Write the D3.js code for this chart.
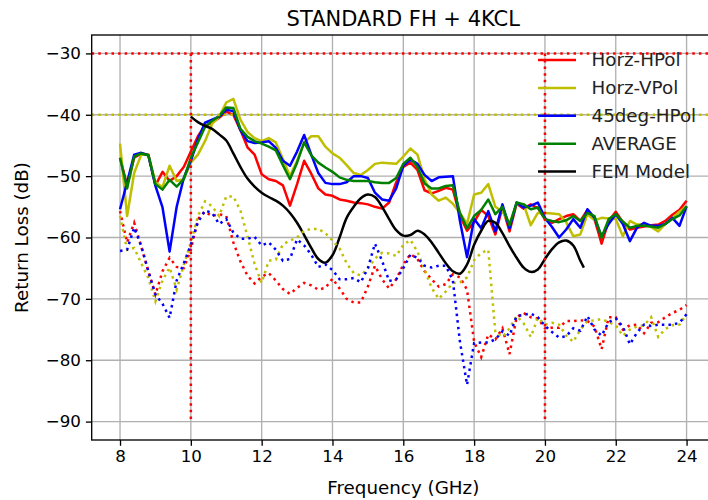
<!DOCTYPE html>
<html>
<head>
<meta charset="utf-8">
<script src="https://cdn.jsdelivr.net/npm/d3@7"></script>
<style>
	body { margin: 0; background: #fff; }
	text { font-family: "DejaVu Sans", sans-serif; fill: #000; }
</style>
</head>
<body>
<div id="chart"></div>
<script>
'use strict';

// Measurement frequencies (GHz), one point every 0.2 GHz
var freqs = [
	8.0, 8.2, 8.4, 8.6, 8.8, 9.0, 9.2, 9.4, 9.6, 9.8,
	10.0, 10.2, 10.4, 10.6, 10.8, 11.0, 11.2, 11.4, 11.6, 11.8,
	12.0, 12.2, 12.4, 12.6, 12.8, 13.0, 13.2, 13.4, 13.6, 13.8,
	14.0, 14.2, 14.4, 14.6, 14.8, 15.0, 15.2, 15.4, 15.6, 15.8,
	16.0, 16.2, 16.4, 16.6, 16.8, 17.0, 17.2, 17.4, 17.6, 17.8,
	18.0, 18.2, 18.4, 18.6, 18.8, 19.0, 19.2, 19.4, 19.6, 19.8,
	20.0, 20.2, 20.4, 20.6, 20.8, 21.0, 21.2, 21.4, 21.6, 21.8,
	22.0, 22.2, 22.4, 22.6, 22.8, 23.0, 23.2, 23.4, 23.6, 23.8,
	24.0
];

// Solid curves (dB)
var horz_hpol = [
	-47.0, -51.5, -47.0, -46.3, -46.5, -51.5, -49.3, -50.8, -50.0, -48.5,
	-46.0, -43.5, -41.8, -41.3, -40.5, -39.5, -40.0, -42.5, -45.3, -46.5,
	-49.7, -50.5, -50.8, -51.5, -54.8, -51.3, -47.5, -49.6, -52.0, -53.0,
	-53.2, -53.8, -54.0, -54.3, -54.4, -54.6, -55.0, -55.3, -54.3, -51.0,
	-48.5, -47.8, -49.0, -52.3, -52.8, -52.4, -51.9, -52.2, -56.5, -58.9,
	-57.5, -55.5, -56.5, -59.5, -55.0, -59.0, -54.5, -55.3, -54.6, -55.2,
	-57.0, -57.6, -57.0, -56.5, -56.2, -57.3, -55.5, -57.0, -61.0, -57.3,
	-55.8, -57.5, -58.7, -58.4, -58.2, -58.0, -57.9, -57.3, -56.3, -55.5,
	-54.0
];

var horz_vpol = [
	-44.7, -56.5, -49.5, -46.5, -46.5, -51.0, -51.8, -48.3, -50.8, -50.5,
	-47.8, -46.5, -44.3, -41.5, -40.3, -38.0, -37.4, -40.8, -42.8, -43.8,
	-44.3, -43.8, -44.5, -47.2, -50.0, -47.5, -44.5, -43.5, -43.5, -45.2,
	-46.3, -47.0, -48.2, -49.5, -49.8, -49.0, -48.0, -47.8, -47.9, -48.0,
	-46.8, -45.5, -46.5, -50.5, -53.0, -54.0, -53.5, -54.5, -56.0, -57.8,
	-53.0, -52.7, -51.3, -55.0, -55.8, -57.8, -54.5, -54.6, -58.0, -56.0,
	-56.0, -56.1, -56.2, -57.5, -59.8, -59.5, -56.2, -57.2, -56.8, -56.9,
	-57.0, -59.8, -57.3, -57.9, -57.9, -58.3, -59.0, -57.8, -56.8, -55.8,
	-54.9
];

var deg45_hpol = [
	-55.4, -51.0, -46.5, -46.2, -46.6, -51.6, -55.1, -62.3, -55.0, -50.3,
	-47.5, -44.0, -41.3, -40.8, -40.3, -39.2, -39.4, -42.5, -44.3, -44.6,
	-44.5, -44.3, -45.4, -47.5, -48.3, -46.0, -43.3, -46.5, -49.5, -51.1,
	-51.3, -51.3, -51.0, -50.0, -50.0, -50.3, -52.7, -53.8, -54.0, -52.0,
	-48.3, -47.3, -48.0, -49.8, -50.8, -50.2, -50.1, -50.0, -57.3, -63.2,
	-57.0, -58.5, -55.7, -59.0, -54.6, -58.5, -54.3, -55.1, -54.8, -54.3,
	-56.8, -58.3, -60.0, -58.7, -57.0, -58.4, -55.4, -56.8, -59.8, -57.8,
	-56.2, -57.8, -60.6, -58.4, -57.6, -58.1, -58.1, -57.8, -56.8, -58.1,
	-54.9
];

var average = [
	-47.0, -52.0, -46.8, -46.3, -46.6, -51.3, -52.2, -50.6, -51.7, -50.5,
	-47.0, -44.5, -42.0, -41.0, -40.2, -38.8, -38.9, -42.3, -43.6, -44.3,
	-44.7, -45.2, -45.8, -48.2, -50.5, -47.8, -44.5, -46.6, -47.8, -48.6,
	-49.3, -50.2, -50.6, -50.8, -50.8, -50.8, -51.0, -51.1, -51.1, -50.3,
	-48.0, -47.0, -48.5, -51.2, -52.0, -52.0, -51.6, -51.5, -56.0, -58.5,
	-56.5, -55.5, -53.8, -56.2, -55.0, -58.0, -54.3, -54.6, -55.4, -55.1,
	-57.0, -57.3, -57.5, -57.2, -56.5, -57.3, -56.0, -56.5, -60.0, -57.0,
	-56.2, -57.4, -58.4, -58.1, -58.1, -58.2, -58.4, -57.8, -57.0, -56.4,
	-54.9
];

// Dotted curves (dB), same frequencies
var horz_hpol_dot = [
	-55.7, -60.8, -57.6, -61.5, -65.5, -69.3, -65.5, -63.3, -64.8, -65.0,
	-62.0, -57.0, -55.8, -56.5, -56.2, -56.5, -60.8, -63.9, -66.2, -67.5,
	-66.4, -65.8, -67.0, -68.4, -69.2, -68.2, -67.4, -67.8, -68.5, -68.2,
	-66.7, -68.3, -70.0, -70.6, -70.6, -68.0, -64.6, -66.8, -68.3, -66.8,
	-64.4, -62.7, -63.5, -65.5, -66.8, -68.0, -67.6, -66.0, -66.5, -68.5,
	-77.0, -79.5, -75.8, -76.6, -74.8, -79.0, -73.0, -72.3, -73.0, -73.2,
	-74.8, -74.7, -74.7, -73.6, -73.6, -73.5, -73.6, -74.5, -78.2, -73.0,
	-73.0, -75.0, -74.3, -74.2, -75.6, -73.9, -73.8, -73.0, -72.3, -71.8,
	-71.0
];

var horz_vpol_dot = [
	-56.5, -62.0, -61.7, -64.2, -66.6, -70.4, -67.0, -64.9, -68.5, -64.5,
	-60.8, -56.5, -54.1, -54.9, -56.5, -53.3, -53.3, -55.6, -59.8, -64.3,
	-67.4, -63.8, -63.6, -61.1, -60.5, -60.0, -58.9, -58.6, -58.6, -59.3,
	-60.5, -61.8, -64.2, -65.8, -66.2, -65.0, -63.4, -62.5, -62.6, -63.0,
	-61.2, -60.4, -62.3, -65.2, -68.2, -70.0, -68.8, -67.4, -67.3, -66.5,
	-63.7, -62.5, -62.0, -75.5, -76.2, -74.8, -72.8, -74.0, -76.2, -73.1,
	-74.2, -73.9, -74.2, -76.0, -77.0, -75.0, -73.6, -73.5, -73.3, -73.8,
	-74.3, -76.0, -75.0, -74.5, -74.3, -73.0, -76.2, -74.9, -74.3, -74.2,
	-72.5
];

var deg45_hpol_dot = [
	-62.2, -62.0, -58.4, -61.4, -65.5, -69.3, -70.8, -73.1, -67.0, -64.2,
	-61.2, -57.5, -55.6, -56.0, -57.8, -57.0, -59.2, -60.2, -60.2, -59.9,
	-61.3, -60.8, -62.0, -63.8, -63.5, -60.3, -61.3, -62.8, -64.8, -64.4,
	-65.3, -66.8, -66.8, -66.6, -67.3, -65.0, -61.0, -63.8, -67.1, -66.8,
	-65.0, -62.8, -63.3, -64.6, -64.9, -64.6, -64.6, -67.0, -77.0, -84.0,
	-77.2, -77.1, -77.1, -76.6, -75.3, -76.0, -72.8, -72.6, -72.4, -73.0,
	-74.4, -75.4, -76.3, -76.1, -74.8, -75.2, -72.8, -75.0, -76.0, -73.8,
	-73.2, -74.5, -77.4, -75.5, -74.2, -74.4, -74.2, -74.2, -74.2, -73.9,
	-72.5
];

// FEM model only covers 10 - 21.1 GHz
var fem_freqs = [
	10.0, 10.2, 10.4, 10.6, 10.8, 11.0, 11.2, 11.4, 11.6, 11.8,
	12.0, 12.2, 12.4, 12.6, 12.8, 13.0, 13.2, 13.4, 13.6, 13.8,
	14.0, 14.2, 14.4, 14.6, 14.8, 15.0, 15.2, 15.4, 15.6, 15.8,
	16.0, 16.2, 16.4, 16.6, 16.8, 17.0, 17.2, 17.4, 17.6, 17.8,
	18.0, 18.2, 18.4, 18.6, 18.8, 19.0, 19.2, 19.4, 19.6, 19.8,
	20.0, 20.2, 20.4, 20.6, 20.8, 21.0, 21.1
];
var fem_model = [
	-40.3, -41.2, -41.8, -42.3, -43.2, -44.2, -46.3, -48.5, -50.4, -51.7,
	-52.7, -53.4, -54.0, -54.8, -56.0, -57.6, -59.6, -61.7, -63.5, -64.1,
	-62.9, -60.0, -56.8, -55.0, -53.6, -53.0, -53.4, -55.0, -57.0, -58.8,
	-59.7, -59.6, -58.9, -59.5, -60.8, -62.5, -64.2, -65.5, -65.9, -64.4,
	-61.2, -58.9, -57.3, -57.6, -59.3, -61.4, -63.3, -64.9, -65.6, -65.2,
	-63.5, -61.9, -60.8, -60.5, -61.3, -63.8, -64.9
];

// Reference limits
var limit_levels = [-30, -40];
var limit_colors = ["#ff0000", "#bfbf00"];
var band_edges = [10, 20];
var band_range = [-30, -90];

var x_ticks = [8, 10, 12, 14, 16, 18, 20, 22, 24];
var y_ticks = [-90, -80, -70, -60, -50, -40, -30];

var series = [
	{ label: "Horz-HPol", color: "#ff0000", values: horz_hpol },
	{ label: "Horz-VPol", color: "#bfbf00", values: horz_vpol },
	{ label: "45deg-HPol", color: "#0000ff", values: deg45_hpol },
	{ label: "AVERAGE", color: "#008000", values: average }
];
var dotted = [
	{ color: "#ff0000", values: horz_hpol_dot },
	{ color: "#bfbf00", values: horz_vpol_dot },
	{ color: "#0000ff", values: deg45_hpol_dot }
];

var width = 708;
var height = 500;

// axes box, the right edge falls just outside the picture
var ax_left = 91.7, ax_right = 714.9, ax_top = 35, ax_bottom = 440;

var x_scale = d3.scaleLinear().domain([7.2, 24.8]).range([ax_left, ax_right]);
var y_scale = d3.scaleLinear().domain([-93, -27]).range([ax_bottom, ax_top]);

var svg = d3.select("#chart").append("svg")
	.attr("width", width)
	.attr("height", height);

// grid
var grid_g = svg.append("g");
x_ticks.forEach(function(t) {
	grid_g.append("line")
		.attr("x1", x_scale(t)).attr("x2", x_scale(t))
		.attr("y1", ax_top).attr("y2", ax_bottom)
		.style("stroke", "#b0b0b0").style("stroke-width", 1.33);
});
y_ticks.forEach(function(t) {
	grid_g.append("line")
		.attr("x1", ax_left).attr("x2", ax_right)
		.attr("y1", y_scale(t)).attr("y2", y_scale(t))
		.style("stroke", "#b0b0b0").style("stroke-width", 1.33);
});

var line = d3.line()
	.x(function(d) { return x_scale(d[0]); })
	.y(function(d) { return y_scale(d[1]); });

var plot_g = svg.append("g");

series.forEach(function(s) {
	plot_g.append("path")
		.datum(d3.zip(freqs, s.values))
		.attr("d", line)
		.style("fill", "none")
		.style("stroke", s.color)
		.style("stroke-width", 2.5)
		.style("stroke-linejoin", "round");
});

plot_g.append("path")
	.datum(d3.zip(fem_freqs, fem_model))
	.attr("d", line.curve(d3.curveCatmullRom))
	.style("fill", "none")
	.style("stroke", "#000")
	.style("stroke-width", 2.5)
	.style("stroke-linejoin", "round");
line.curve(d3.curveLinear);

dotted.forEach(function(s) {
	plot_g.append("path")
		.datum(d3.zip(freqs, s.values))
		.attr("d", line)
		.style("fill", "none")
		.style("stroke", s.color)
		.style("stroke-width", 2.5)
		.style("stroke-dasharray", "2.5,4.1");
});

limit_levels.forEach(function(v, i) {
	plot_g.append("line")
		.attr("x1", ax_left).attr("x2", ax_right)
		.attr("y1", y_scale(v)).attr("y2", y_scale(v))
		.style("stroke", limit_colors[i])
		.style("stroke-width", 2.5)
		.style("stroke-dasharray", "2.5,4.1");
});
band_edges.forEach(function(f) {
	plot_g.append("line")
		.attr("x1", x_scale(f)).attr("x2", x_scale(f))
		.attr("y1", y_scale(band_range[0])).attr("y2", y_scale(band_range[1]))
		.style("stroke", "#ff0000")
		.style("stroke-width", 2.5)
		.style("stroke-dasharray", "2.5,4.1");
});

// spines
svg.append("rect")
	.attr("x", ax_left).attr("y", ax_top)
	.attr("width", ax_right - ax_left).attr("height", ax_bottom - ax_top)
	.style("fill", "none").style("stroke", "#000").style("stroke-width", 1.33);

// axes
var x_axis = d3.axisBottom(x_scale)
	.tickValues(x_ticks)
	.tickSize(5.8).tickSizeOuter(0).tickPadding(4.5)
	.tickFormat(d3.format("d"));
var y_axis = d3.axisLeft(y_scale)
	.tickValues(y_ticks)
	.tickSize(5.8).tickSizeOuter(0).tickPadding(5)
	.tickFormat(d3.format("d"));

var xg = svg.append("g").attr("transform", "translate(0," + ax_bottom + ")").call(x_axis);
var yg = svg.append("g").attr("transform", "translate(" + ax_left + ",0)").call(y_axis);
[xg, yg].forEach(function(g) {
	g.select(".domain").remove();
	g.selectAll(".tick line").style("stroke", "#000").style("stroke-width", 1.33);
	g.selectAll(".tick text")
		.style("font-family", "DejaVu Sans")
		.style("font-size", "16.7px")
		.style("fill", "#000");
});

// labels
svg.append("text")
	.attr("x", (ax_left + ax_right) / 2).attr("y", 26)
	.attr("text-anchor", "middle")
	.style("font-size", "21px")
	.text("STANDARD FH + 4KCL");

svg.append("text")
	.attr("x", (ax_left + ax_right) / 2).attr("y", 494)
	.attr("text-anchor", "middle")
	.style("font-size", "18.3px")
	.text("Frequency (GHz)");

svg.append("text")
	.attr("transform", "translate(28," + ((ax_top + ax_bottom) / 2) + ") rotate(-90)")
	.attr("text-anchor", "middle")
	.style("font-size", "18.3px")
	.text("Return Loss (dB)");

// legend, no frame
var legend_items = series.concat([{ label: "FEM Model", color: "#000" }]);
var legend_g = svg.append("g");
legend_items.forEach(function(d, i) {
	var ly = 60 + i * 27.9;
	legend_g.append("line")
		.attr("x1", 538).attr("x2", 576)
		.attr("y1", ly).attr("y2", ly)
		.style("stroke", d.color)
		.style("stroke-width", 2.5);
	legend_g.append("text")
		.attr("x", 591.5).attr("y", ly)
		.attr("dy", "0.35em")
		.style("font-size", "18.3px")
		.style("fill", "#222")
		.text(d.label);
});
</script>
</body>
</html>
